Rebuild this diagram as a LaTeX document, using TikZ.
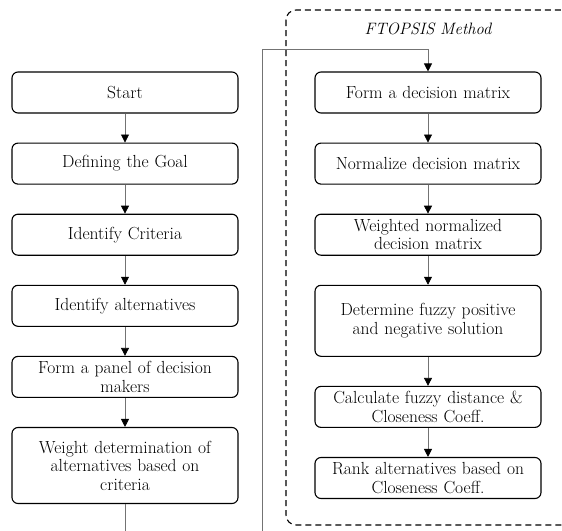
\documentclass[tikz,border=0pt]{standalone}
\usetikzlibrary{arrows.meta,positioning}
\tikzset{
  stepbox/.style={
    draw,
    line width=1.1pt,
    rounded corners=6pt,
    minimum width=226pt,
    minimum height=41pt,
    text width=220pt,
    align=center,
    inner sep=2pt,
    font=\fontsize{17.5}{18.5}\selectfont
  },
  flow/.style={draw=black!55,line width=0.8pt,-{Triangle[length=8pt,width=8pt,black]}},
  method/.style={draw,dash pattern=on 6pt off 4pt,line width=1.1pt,rounded corners=10pt}
}

\begin{document}
\begin{tikzpicture}[x=1pt,y=-1pt,node distance=29pt]
\useasboundingbox (0,0) rectangle (562,530);

% left column
\node[stepbox] (start) at (125,92.5) {Start};
\node[stepbox, below=of start] (goal) {Defining the Goal};
\node[stepbox, below=of goal] (crit) {Identify Criteria};
\node[stepbox, below=of crit] (alt) {Identify alternatives};
\node[stepbox, below=of alt] (panel) {Form a panel of decision\\makers};
\node[stepbox, below=of panel, minimum height=76pt] (weight) {Weight determination of\\alternatives based on\\criteria};

% FTOPSIS column
\draw[method] (286,10) rectangle (575,525);
\node[font=\fontsize{16.5}{18}\selectfont\itshape] (title) at (428,29) {FTOPSIS Method};
\node[stepbox] (form) at (428,92.5) {Form a decision matrix};
\node[stepbox, below=of form] (norm) {Normalize decision matrix};
\node[stepbox, below=of norm] (wnorm) {Weighted normalized\\decision matrix};
\node[stepbox, below=of wnorm, minimum height=71pt] (ideal) {Determine fuzzy positive\\and negative solution};
\node[stepbox, below=of ideal] (dist) {Calculate fuzzy distance \&\\Closeness Coeff.};
\node[stepbox, below=of dist] (rank) {Rank alternatives based on\\Closeness Coeff.};

\coordinate (turn) at (262,545);
\coordinate (back) at (262,49);

\draw[flow] (start) -- (goal);
\draw[flow] (goal) -- (crit);
\draw[flow] (crit) -- (alt);
\draw[flow] (alt) -- (panel);
\draw[flow] (panel) -- (weight);
\draw[flow] (weight.south) |- (turn) -- (back) -| (form.north);
\draw[flow] (form) -- (norm);
\draw[flow] (norm) -- (wnorm);
\draw[flow] (wnorm) -- (ideal);
\draw[flow] (ideal) -- (dist);
\draw[flow] (dist) -- (rank);
\end{tikzpicture}
\end{document}
